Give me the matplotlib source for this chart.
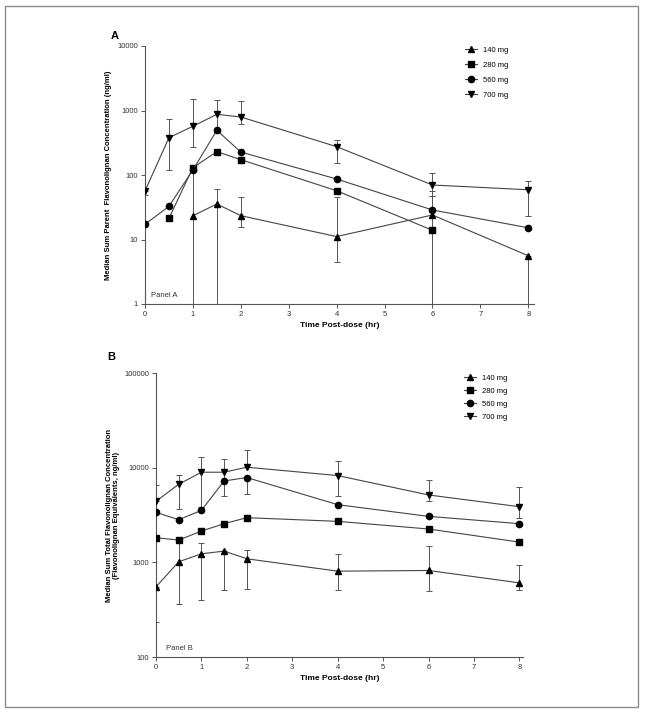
import numpy as np
import matplotlib
matplotlib.use("Agg")
import matplotlib.pyplot as plt
from matplotlib.patches import Rectangle
from matplotlib.ticker import FixedLocator, FuncFormatter, NullLocator

plt.rcParams["font.family"] = ["Liberation Sans", "DejaVu Sans"]

doses = ["140 mg", "280 mg", "560 mg", "700 mg"]
markers = ["^", "s", "o", "v"]

# Panel A: median sum parent flavonolignan (ng/ml)
a_t = {
    "140 mg": [1, 1.5, 2, 4, 6, 8],
    "280 mg": [0.5, 1, 1.5, 2, 4, 6],
    "560 mg": [0, 0.5, 1, 1.5, 2, 4, 6, 8],
    "700 mg": [0, 0.5, 1, 1.5, 2, 4, 6, 8],
}
a_med = {
    "140 mg": [23.4, 35.5, 23.4, 11.1, 24, 5.6],
    "280 mg": [21.3, 130, 230, 173, 57, 13.9],
    "560 mg": [17.2, 32.7, 120, 493, 227, 86.7, 28.7, 15.2],
    "700 mg": [56.5, 379, 569, 873, 793, 275, 70, 59],
}
a_lo = {
    "140 mg": [0.5, 0.5, 15.5, 4.5, 0.5, 0.5],
    "280 mg": [21.3, 130, 230, 173, 57, 0.5],
    "560 mg": [17.2, 32.7, 120, 493, 227, 86.7, 28.7, 15.2],
    "700 mg": [49, 118, 268, 460, 611, 152, 48, 23.5],
}
a_hi = {
    "140 mg": [145, 60, 45, 46, 48, 5.6],
    "280 mg": [21.3, 143, 230, 173, 57, 13.9],
    "560 mg": [17.2, 32.7, 120, 493, 227, 86.7, 57, 15.2],
    "700 mg": [56.5, 746, 1490, 1440, 1388, 353, 106, 80],
}

# Panel B: median sum total flavonolignan (flavonolignan equivalents, ng/ml)
b_t = [0, 0.5, 1, 1.5, 2, 4, 6, 8]
b_med = {
    "140 mg": [551, 1014, 1231, 1314, 1090, 807, 820, 607],
    "280 mg": [1820, 1718, 2140, 2560, 2963, 2710, 2250, 1636],
    "560 mg": [3373, 2820, 3540, 7240, 7860, 4066, 3060, 2560],
    "700 mg": [4413, 6680, 8950, 8950, 10110, 8250, 5150, 3870],
}
b_lo = {
    "140 mg": [234, 361, 398, 508, 520, 508, 496, 508],
    "280 mg": [1820, 1718, 2140, 2560, 2963, 2710, 2250, 1636],
    "560 mg": [3373, 2820, 3540, 7240, 5320, 4066, 3060, 2560],
    "700 mg": [4413, 3660, 3870, 5020, 10110, 4990, 4410, 2970],
}
b_hi = {
    "140 mg": [551, 1700, 1596, 1314, 1345, 1211, 1472, 927],
    "280 mg": [1820, 1718, 2140, 2560, 2963, 2710, 2250, 1636],
    "560 mg": [3373, 2820, 3540, 7240, 7860, 4066, 3060, 2560],
    "700 mg": [6520, 8318, 13110, 12390, 15550, 11700, 7480, 6250],
}

fig = plt.figure(figsize=(6.45, 7.13), dpi=100)
fig.patches.append(Rectangle((5 / 645, 6 / 713), 633 / 645, 701 / 713,
                             transform=fig.transFigure, fill=False,
                             edgecolor="#8a8a8a", linewidth=1.0))

axA = fig.add_axes([145 / 645, 1 - 304 / 713, 389 / 645, 258 / 713])
axB = fig.add_axes([156 / 645, 1 - 657 / 713, 367 / 645, 284 / 713])


def draw(ax, tdict, med, lo, hi):
    for d, m in zip(doses, markers):
        t = tdict[d] if isinstance(tdict, dict) else tdict
        y = np.array(med[d])
        err = [y - np.array(lo[d]), np.array(hi[d]) - y]
        ax.errorbar(t, y, yerr=err, fmt="none", ecolor="#555555",
                    elinewidth=0.7, capsize=2.5, capthick=0.7, zorder=2)
        ax.plot(t, y, color="#444444", lw=0.8, marker=m, ms=4.5,
                mfc="black", mec="black", label=d, zorder=3)


def style(ax, yticks, xmax):
    ax.set_yscale("log")
    ax.set_ylim(yticks[0], yticks[-1])
    ax.set_xlim(0, xmax)
    ax.yaxis.set_major_locator(FixedLocator(yticks))
    ax.yaxis.set_minor_locator(NullLocator())
    ax.yaxis.set_major_formatter(FuncFormatter(lambda v, p: f"{v:.0f}"))
    ax.set_xticks(range(9))
    for s in ["top", "right"]:
        ax.spines[s].set_visible(False)
    for s in ["left", "bottom"]:
        ax.spines[s].set_color("#555555")
        ax.spines[s].set_linewidth(0.8)
    ax.tick_params(direction="out", length=3, width=0.7, color="#555555",
                   labelsize=5.5, pad=2, labelcolor="#333333")
    for sp in ax.spines.values():
        sp.set_clip_on(False)
    ax.set_xlabel("Time Post-dose (hr)", fontsize=6, fontweight="bold",
                  labelpad=3)


draw(axA, a_t, a_med, a_lo, a_hi)
style(axA, [1, 10, 100, 1000, 10000], 8.12)
axA.set_ylabel("Median Sum Parent  Flavonolignan Concentration (ng/ml)",
               fontsize=5.5, fontweight="bold", labelpad=4)
axA.text(0.12, 1.3, "Panel A", fontsize=5.5, color="#333333")
axA.legend(loc="upper left", bbox_to_anchor=(0.805, 1.025), frameon=False,
           fontsize=5.5, handlelength=1.6, labelspacing=1.0, handletextpad=0.8)
fig.text(111 / 645, 1 - 36 / 713, "A", fontsize=8, fontweight="bold",
         va="center")

draw(axB, b_t, b_med, b_lo, b_hi)
style(axB, [100, 1000, 10000, 100000], 8.08)
axB.set_ylabel("Median Sum Total Flavonolignan Concentration\n"
               "(Flavonolignan Equivalents, ng/ml)",
               fontsize=5.5, fontweight="bold", labelpad=3, linespacing=1.1)
axB.text(0.22, 120, "Panel B", fontsize=5.5, color="#333333")
axB.legend(loc="upper left", bbox_to_anchor=(0.82, 1.02), frameon=False,
           fontsize=5.5, handlelength=1.6, labelspacing=0.75, handletextpad=0.8)
fig.text(107 / 645, 1 - 357 / 713, "B", fontsize=8, fontweight="bold",
         va="center")

fig.savefig("out.png", dpi=100)
